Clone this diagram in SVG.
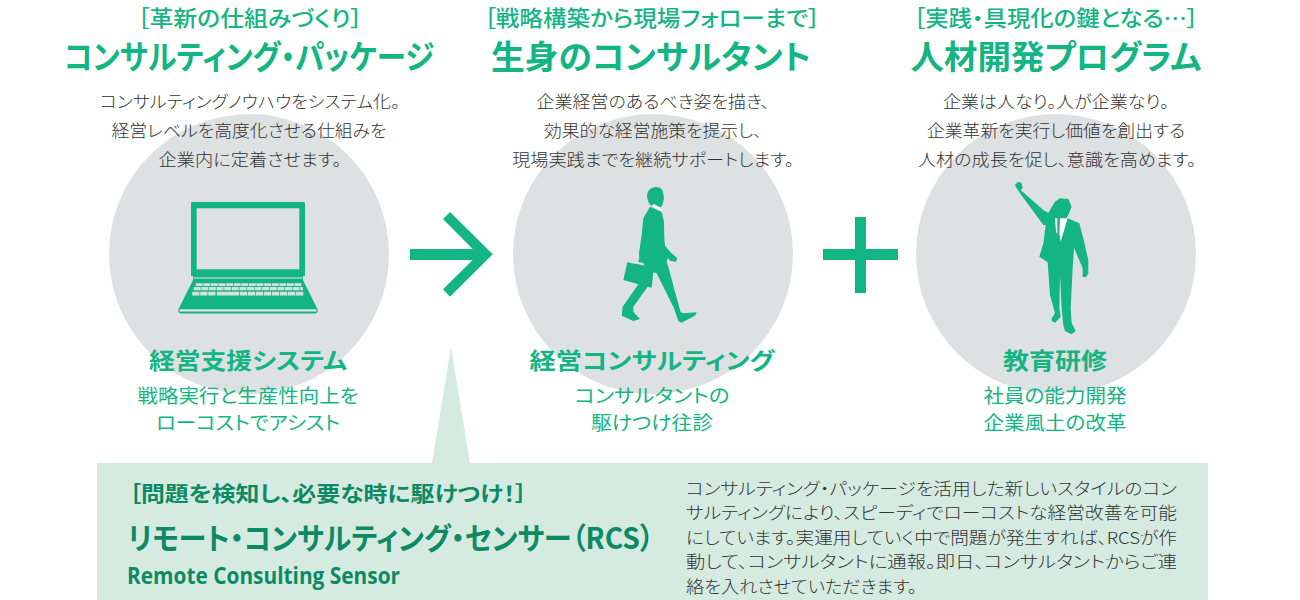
<svg xmlns="http://www.w3.org/2000/svg" width="1300" height="600" viewBox="0 0 1300 600">
<style>
text{font-family:"Noto Sans CJK JP","Noto Sans",sans-serif;text-anchor:middle;font-feature-settings:"palt"}
.sub{font-size:21.500px;font-weight:500;fill:#14b584}
.head{font-size:33px;font-weight:700;fill:#14b584}
.body{font-size:16.500px;font-weight:300;fill:#333}
.cap{font-size:23px;font-weight:700;fill:#14b584}
.desc{font-size:19px;font-weight:400;fill:#14b584}
.pb{font-size:16.500px;font-weight:300;fill:#333;text-anchor:start}
.circle{fill:#dee1e2}
.g{fill:#14b584}
.dk{fill:#0d8a63;text-anchor:start;font-weight:700}
.key{stroke:#d3e0db;fill:none}
</style>
<rect width="1300" height="600" fill="#fff"/>
<g id="node-package">
<circle class="circle" cx="249" cy="254" r="140"/>
<text class="sub" x="250" y="26" textLength="225" lengthAdjust="spacingAndGlyphs">［革新の仕組みづくり］</text>
<text class="head" x="249" y="69" textLength="370" lengthAdjust="spacingAndGlyphs">コンサルティング・パッケージ</text>
<text class="body" x="250" y="108" textLength="300" lengthAdjust="spacingAndGlyphs">コンサルティングノウハウをシステム化。</text>
<text class="body" x="249" y="137" textLength="275" lengthAdjust="spacingAndGlyphs">経営レベルを高度化させる仕組みを</text>
<text class="body" x="250" y="166" textLength="183" lengthAdjust="spacingAndGlyphs">企業内に定着させます。</text>
<path class="g" fill-rule="evenodd" d="M191 203Q191 202 192 202H304Q305 202 305 203V276H191ZM196.700 208.300V269.300H299.300V208.300Z"/>
<rect class="g" x="193" y="276" width="110" height="4"/>
<rect x="193.500" y="277.300" width="109" height="1.300" fill="#b8dcce"/>
<path class="g" d="M193 280H303L317.500 309Q318.500 313.500 315 313.500H181Q177.500 313.500 178.500 309Z"/>
<rect x="179.500" y="309.300" width="137" height="2.200" fill="#dde6e2"/>
<path class="key" stroke-width="2.700" stroke-dasharray="6.900 .7" d="M195.700 284.700H301.700"/>
<path class="key" stroke-width="3.300" stroke-dasharray="6.900 .7" d="M193.800 288.700H302.800"/>
<path class="key" stroke-width="3.800" stroke-dasharray="7.300 .7" d="M192.200 293.600H216"/>
<path class="key" stroke-width="3.800" d="M216.800 293.600H239.300"/>
<path class="key" stroke-width="3.800" stroke-dasharray="7.300 .7" d="M240 293.600H304"/>
<text class="cap" x="248" y="369" textLength="198" lengthAdjust="spacingAndGlyphs">経営支援システム</text>
<text class="desc" x="248" y="402.500" textLength="221" lengthAdjust="spacingAndGlyphs">戦略実行と生産性向上を</text>
<text class="desc" x="248" y="429.500" textLength="184" lengthAdjust="spacingAndGlyphs">ローコストでアシスト</text>
</g>
<g id="node-consultant">
<circle class="circle" cx="653" cy="254" r="140"/>
<text class="sub" x="652" y="26" textLength="336" lengthAdjust="spacingAndGlyphs">［戦略構築から現場フォローまで］</text>
<text class="head" x="651" y="69" textLength="320" lengthAdjust="spacingAndGlyphs">生身のコンサルタント</text>
<text class="body" x="653" y="108" textLength="233" lengthAdjust="spacingAndGlyphs">企業経営のあるべき姿を描き、</text>
<text class="body" x="653" y="137" textLength="218" lengthAdjust="spacingAndGlyphs">効果的な経営施策を提示し、</text>
<text class="body" x="653" y="166" textLength="282" lengthAdjust="spacingAndGlyphs">現場実践までを継続サポートします。</text>
<path class="g" d="M647 195Q648 188 655 187Q662 187 663 192L664 198L663 203Q662 208 658 208L652 207Q647 202 647 195Z"/>
<path d="M651 206L662 212L661 208L654 204Z" fill="#fff"/>
<g transform="translate(600 195) scale(.33333)">
<path class="g" d="M150 35L185 50L192 80L193 130L195 152L212 172L232 190L228 200L212 198L203 190L200 200L205 215L225 290L242 352L250 355L290 352L285 362L245 383L235 378L222 340L170 235L160 232L155 278L143 275L100 335L100 350L120 372L100 378L65 362L68 335L115 268L70 255L82 202L112 208L118 190L117 175L125 120L130 70Z"/>
<path d="M112 200L130 204L132 212L112 207Z" fill="#dee1e2"/>
</g>
<text class="cap" x="652" y="369" textLength="245" lengthAdjust="spacingAndGlyphs">経営コンサルティング</text>
<text class="desc" x="652" y="402.500" textLength="155" lengthAdjust="spacingAndGlyphs">コンサルタントの</text>
<text class="desc" x="652" y="429.500" textLength="122" lengthAdjust="spacingAndGlyphs">駆けつけ往診</text>
</g>
<g id="node-training">
<circle class="circle" cx="1056" cy="254" r="140"/>
<text class="sub" x="1056" y="26" textLength="285" lengthAdjust="spacingAndGlyphs">［実践・具現化の鍵となる…］</text>
<text class="head" x="1056" y="69" textLength="291" lengthAdjust="spacingAndGlyphs">人材開発プログラム</text>
<text class="body" x="1056" y="108" textLength="226" lengthAdjust="spacingAndGlyphs">企業は人なり。人が企業なり。</text>
<text class="body" x="1056" y="137" textLength="258" lengthAdjust="spacingAndGlyphs">企業革新を実行し価値を創出する</text>
<text class="body" x="1057" y="166" textLength="278" lengthAdjust="spacingAndGlyphs">人材の成長を促し、意識を高めます。</text>
<g transform="translate(1000 175) scale(.33333)">
<path class="g" d="M45 30L55 20L65 25L68 40L62 45L130 105L145 113L165 80L180 70L205 72L215 95L205 120L200 128L238 145L250 190L265 255L265 295L258 307L248 305L248 280L222 218L218 280L215 340L212 400L215 445L227 468L215 478L195 468L190 450L185 400L180 300L178 400L182 425L165 443L155 438L155 430L165 415L150 360L143 262L118 245L130 205L137 150L130 150L60 55L50 40Z"/>
<path d="M165 130H172L172 178L168 170Z M180 130H203L182 200L178 175Z" fill="#fff"/>
</g>
<text class="cap" x="1055" y="369" textLength="104" lengthAdjust="spacingAndGlyphs">教育研修</text>
<text class="desc" x="1055" y="402.500" textLength="143" lengthAdjust="spacingAndGlyphs">社員の能力開発</text>
<text class="desc" x="1055" y="429.500" textLength="143" lengthAdjust="spacingAndGlyphs">企業風土の改革</text>
</g>
<g id="connectors">
<path class="g" d="M410 249H472.700L443 219L450 212L492.700 254.300L450 296.700L443 289.300L472.700 260H410Z"/>
<path class="g" d="M823 249H855V217H866V249H898V260H866V293H855V260H823Z"/>
</g>
<g id="node-rcs">
<path fill="#d5ebe1" d="M451 347L470 463H1208V600H97V463H432Z"/>
<text class="dk" x="129" y="501" font-size="21" textLength="398" lengthAdjust="spacingAndGlyphs">［問題を検知し、必要な時に駆けつけ！］</text>
<text class="dk" x="128" y="549" font-size="30" textLength="526" lengthAdjust="spacingAndGlyphs">リモート・コンサルティング・センサー（RCS）</text>
<text class="dk" x="127" y="584" font-size="24" textLength="273" lengthAdjust="spacingAndGlyphs" style="font-family:'Open Sans','Noto Sans',sans-serif">Remote Consulting Sensor</text>
<text class="pb" x="686" y="495" textLength="491" lengthAdjust="spacingAndGlyphs">コンサルティング・パッケージを活用した新しいスタイルのコン</text>
<text class="pb" x="686" y="519" textLength="491" lengthAdjust="spacingAndGlyphs">サルティングにより、スピーディでローコストな経営改善を可能</text>
<text class="pb" x="686" y="543.500" textLength="491" lengthAdjust="spacingAndGlyphs">にしています。実運用していく中で問題が発生すれば、RCSが作</text>
<text class="pb" x="686" y="568" textLength="491" lengthAdjust="spacingAndGlyphs">動して、コンサルタントに通報。即日、コンサルタントからご連</text>
<text class="pb" x="686" y="592.500" textLength="231" lengthAdjust="spacingAndGlyphs">絡を入れさせていただきます。</text>
</g>
</svg>
